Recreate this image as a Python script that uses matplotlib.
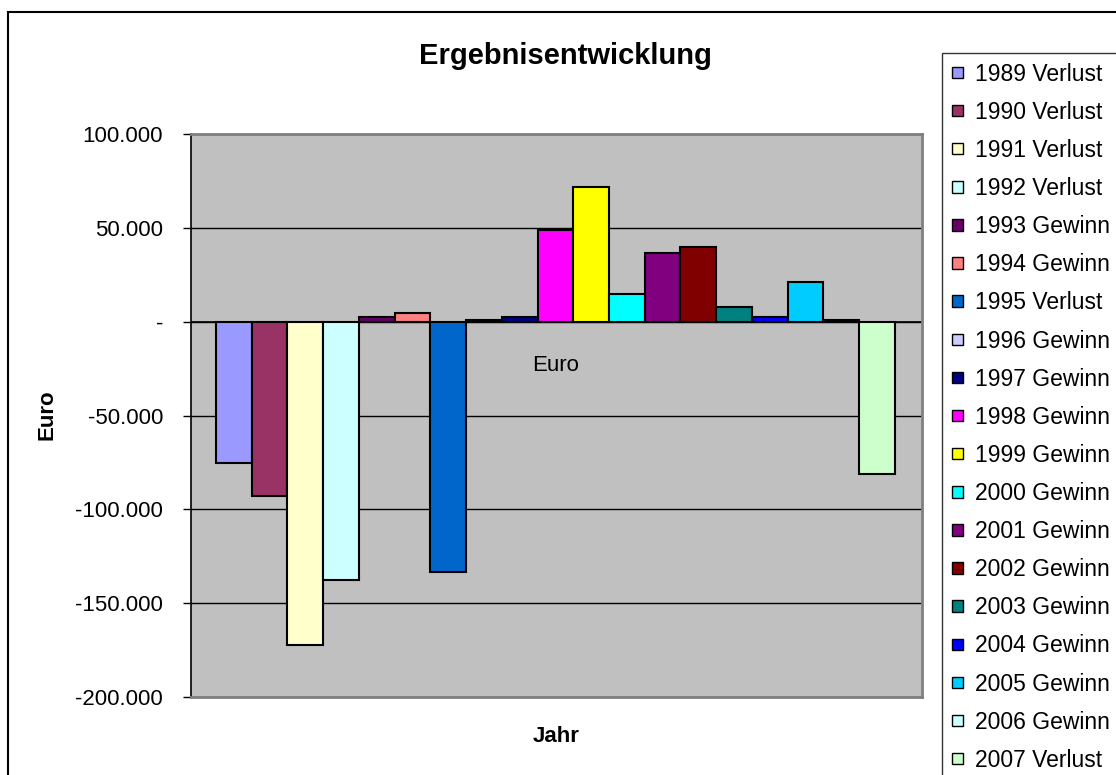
import numpy as np
import matplotlib
matplotlib.use("Agg")
import matplotlib.pyplot as plt
from matplotlib.patches import Rectangle
from matplotlib.ticker import FuncFormatter

plt.rcParams['font.family'] = ['Liberation Sans', 'DejaVu Sans']

# data (Euro)
years = ['1989', '1990', '1991', '1992', '1993', '1994', '1995', '1996', '1997', '1998',
         '1999', '2000', '2001', '2002', '2003', '2004', '2005', '2006', '2007']
kind = ['Verlust', 'Verlust', 'Verlust', 'Verlust', 'Gewinn', 'Gewinn', 'Verlust', 'Gewinn',
        'Gewinn', 'Gewinn', 'Gewinn', 'Gewinn', 'Gewinn', 'Gewinn', 'Gewinn', 'Gewinn',
        'Gewinn', 'Gewinn', 'Verlust']
values = [-75500, -93000, -172500, -137500, 2500, 4500, -133500, 700, 2300, 49000,
          71500, 15000, 36500, 40000, 8000, 2700, 21000, 700, -81000]
colors = ['#9999FF', '#993366', '#FFFFCC', '#CCFFFF', '#660066', '#FF8080', '#0066CC',
          '#CCCCFF', '#000080', '#FF00FF', '#FFFF00', '#00FFFF', '#800080', '#800000',
          '#008080', '#0000FF', '#00CCFF', '#CCFFFF', '#CCFFCC']
category = 'Euro'

W, H = 1116, 775
fig = plt.figure(figsize=(W / 100, H / 100), dpi=100)

# outer chart frame
fig.patches.append(Rectangle((8 / W, -0.1), 1.2, 1.1 - 12 / H, transform=fig.transFigure,
                             fill=False, edgecolor='black', linewidth=1.5))

ax = fig.add_axes([191 / W, 1 - 697 / H, (922 - 191) / W, (697 - 134) / H])
ax.set_facecolor('#C0C0C0')

handles = []
for i in range(len(values)):
    b = ax.bar(i, values[i], width=1.0, color=colors[i], edgecolor='black',
               linewidth=1.5, zorder=3, label=years[i] + ' ' + kind[i])
    handles.append(b)

ax.set_xlim(-1.2, 19.26)
ax.set_ylim(-200000, 100000)
ax.set_yticks(np.arange(-200000, 100001, 50000))
ax.yaxis.set_major_formatter(FuncFormatter(
    lambda v, p: '-' if v == 0 else format(int(v), ',').replace(',', '.')))
ax.tick_params(axis='y', direction='out', length=6, width=1, labelsize=16, pad=14)
ax.set_xticks([])
ax.grid(axis='y', color='black', linewidth=1, zorder=1)
ax.axhline(0, color='black', linewidth=1.2, zorder=2)

for s in ['top', 'right', 'bottom']:
    ax.spines[s].set_color('#808080')
    ax.spines[s].set_linewidth(2)
ax.spines['left'].set_color('black')
ax.spines['left'].set_linewidth(1.2)

# category label under the zero axis
ax.annotate(category, xy=(9, 0), xytext=(0, -24), textcoords='offset points',
            ha='center', va='top', fontsize=16)

fig.text(565 / W, 1 - 56 / H, 'Ergebnisentwicklung', ha='center', va='center',
         fontsize=21, fontweight='bold')
fig.text(47 / W, 1 - 415 / H, 'Euro', ha='center', va='center', rotation=90,
         fontsize=16, fontweight='bold')
fig.text(556 / W, 1 - 737 / H, 'Jahr', ha='center', va='center',
         fontsize=16, fontweight='bold')

leg = fig.legend(handles=handles, loc='upper left', bbox_to_anchor=(942 / W, 1 - 53 / H),
                 fontsize=16.5, frameon=True, fancybox=False, handlelength=0.5,
                 handleheight=0.4, handletextpad=0.5, labelspacing=0.66,
                 borderpad=0.42, borderaxespad=0)
leg.get_frame().set_edgecolor('black')
leg.get_frame().set_linewidth(1)
for h in leg.legend_handles:
    h.set_linewidth(1)

fig.savefig('out.png', dpi=100)
